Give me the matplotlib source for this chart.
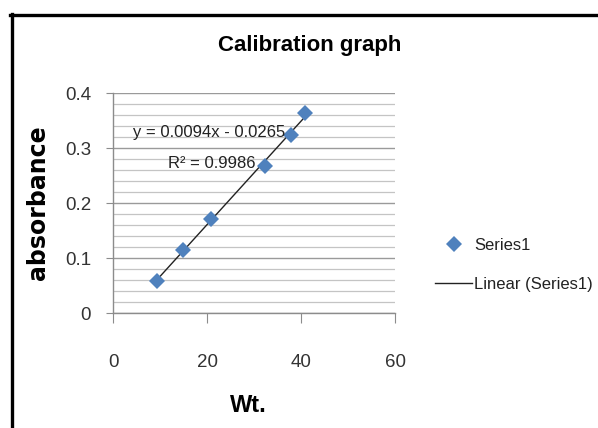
import matplotlib.pyplot as plt
from matplotlib.lines import Line2D
import numpy as np

# values
wt = [9.4, 14.8, 20.9, 32.3, 37.9, 40.9]
absorbance = [0.058, 0.116, 0.171, 0.268, 0.324, 0.364]
slope = 0.0094
intercept = -0.0265
r_squared = 0.9986
x_ticks = [0, 20, 40, 60]
y_ticks = [0, 0.1, 0.2, 0.3, 0.4]

narrow = ["Liberation Sans Narrow", "Liberation Sans", "DejaVu Sans"]
blue = "#4F81BD"
tick_color = "#333333"

fig = plt.figure(figsize=(5.98, 4.28), dpi=100)
fig.patch.set_facecolor("white")
ax = fig.add_axes([113.3 / 598, 1 - 313.3 / 428, (395 - 113.3) / 598, (313.3 - 93.3) / 428])

# gridlines: major every 0.1, minor every 0.02
ax.set_yticks(np.arange(0, 0.401, 0.02), minor=True)
ax.yaxis.grid(True, which="major", color="#9a9a9a", lw=1.0)
ax.yaxis.grid(True, which="minor", color="#c4c4c4", lw=0.9)
ax.set_axisbelow(True)

ax.plot(wt, absorbance, "D", color=blue, markersize=8.5, markeredgewidth=0,
        label="Series1", zorder=3)
# trendline over the data range
fit_x = np.array([min(wt), max(wt)])
ax.plot(fit_x, slope * fit_x + intercept, color="#222222", lw=1.0,
        label="Linear (Series1)", zorder=2)

ax.set_xlim(0, 60)
ax.set_ylim(0, 0.4)
ax.set_xticks(x_ticks)
ax.set_yticks(y_ticks)
ax.set_xticklabels([str(t) for t in x_ticks], family=narrow, fontsize=13.5, color=tick_color)
ax.set_yticklabels(["0", "0.1", "0.2", "0.3", "0.4"], family=narrow, fontsize=13.5, color=tick_color)
ax.tick_params(axis="y", which="major", length=5, color="#8c8c8c", pad=11)
ax.tick_params(axis="y", which="minor", length=0)
ax.tick_params(axis="x", length=7, color="#8c8c8c", pad=22)

for side in ["top", "right"]:
    ax.spines[side].set_visible(False)
for side in ["left", "bottom"]:
    ax.spines[side].set_color("#8c8c8c")
    ax.spines[side].set_linewidth(1.0)

ax.text(4.2, 0.328, "y = 0.0094x - 0.0265", family=narrow, fontsize=12,
        color="#222222", va="center", ha="left")
ax.text(11.7, 0.273, "R² = {:.4f}".format(r_squared), family=narrow, fontsize=12,
        color="#222222", va="center", ha="left")

fig.text(310 / 598, 1 - 45 / 428, "Calibration graph", family=narrow, fontsize=16,
         weight="bold", ha="center", va="center", color="black")
fig.text(38 / 598, 1 - 203 / 428, "absorbance", fontsize=17, weight="bold",
         rotation=90, ha="center", va="center", color="black")
fig.text(248 / 598, 1 - 405 / 428, "Wt.", family=narrow, fontsize=17,
         weight="bold", ha="center", va="center", color="black")

fig.legend(loc="center left", bbox_to_anchor=(422 / 598, 1 - 265 / 428),
           frameon=False, prop={"family": narrow, "size": 12},
           handlelength=2.2, handletextpad=0.15, labelspacing=1.45,
           borderpad=0.3, labelcolor="#222222")

# outer frame (only top and left edges visible in the crop)
fig.add_artist(Line2D([10 / 598, 1.0], [1 - 14.5 / 428, 1 - 14.5 / 428],
                      transform=fig.transFigure, color="black", lw=2.4))
fig.add_artist(Line2D([11.5 / 598, 11.5 / 598], [0, 1 - 13.5 / 428],
                      transform=fig.transFigure, color="black", lw=2.4))

fig.savefig("out.png", dpi=100)
